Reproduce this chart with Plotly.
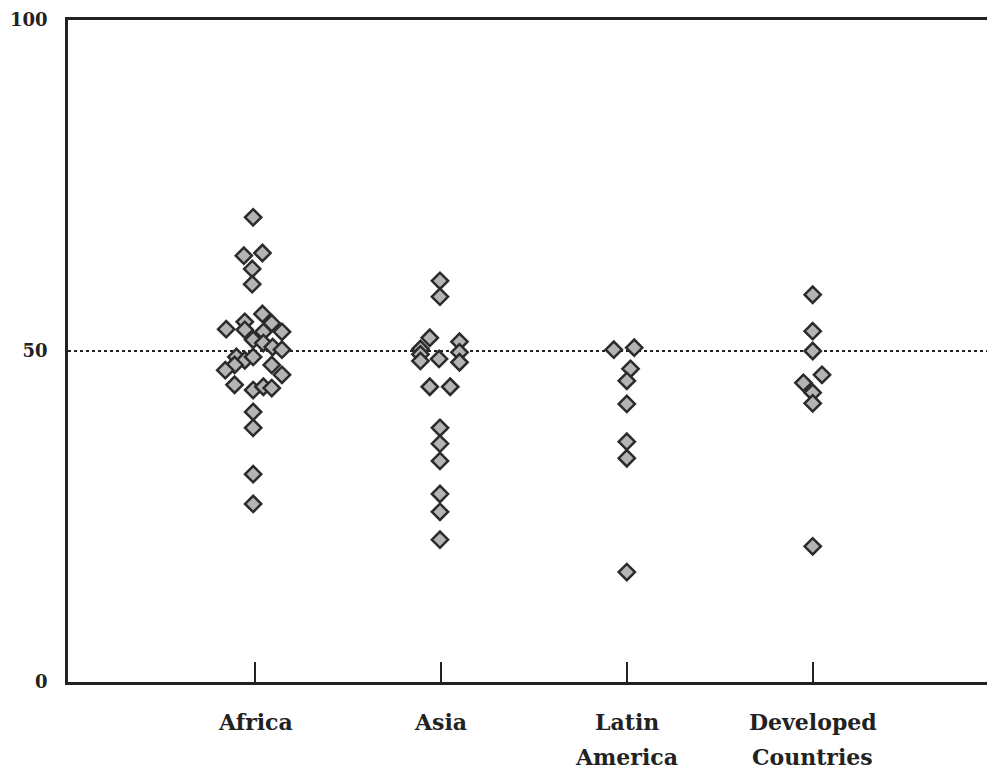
import plotly.graph_objects as go

# ---- data ----
categories = ["Africa", "Asia", "Latin America", "Developed Countries"]
label_line1 = ["Africa", "Asia", "Latin", "Developed"]
label_line2 = ["", "", "America", "Countries"]

africa_values = [70.2, 64.4, 64.8, 62.4, 60.1, 55.6, 53.3, 54.4, 53.2, 54.2, 52.9, 52.9,
                 51.7, 51.2, 50.6, 50.2, 49.1, 48.6, 49.1, 47.9, 47.1, 47.9, 46.4, 44.9,
                 44.1, 44.6, 44.4, 40.8, 38.4, 31.4, 26.9]
africa_offsets = [-0.01, -0.06, 0.04, -0.015, -0.015, 0.04, -0.155, -0.055, -0.055, 0.09, 0.145, 0.045,
                  -0.01, 0.045, 0.095, 0.145, -0.10, -0.055, -0.01, -0.11, -0.16, 0.09, 0.145, -0.11,
                  -0.01, 0.045, 0.09, -0.01, -0.01, -0.01, -0.01]

asia_values = [60.6, 58.2, 52.0, 51.4, 50.3, 49.8, 49.5, 48.8, 48.5, 48.3, 44.6, 44.6,
               38.4, 36.0, 33.4, 28.4, 25.7, 21.5]
asia_offsets = [-0.005, -0.005, -0.06, 0.10, -0.11, 0.10, -0.11, -0.01, -0.11, 0.10, -0.06, 0.05,
                -0.005, -0.005, -0.005, -0.005, -0.005, -0.005]

latin_values = [50.2, 50.5, 47.3, 45.5, 42.0, 36.3, 33.8, 16.6]
latin_offsets = [-0.07, 0.04, 0.02, 0.0, 0.0, 0.0, 0.0, 0.0]

developed_values = [58.5, 53.0, 50.0, 46.4, 45.2, 43.7, 42.1, 20.5]
developed_offsets = [0.0, 0.0, 0.0, 0.05, -0.05, 0.0, 0.0, 0.0]

reference_level = 50
y_ticks = [0, 50, 100]

groups = [
    (africa_values, africa_offsets),
    (asia_values, asia_offsets),
    (latin_values, latin_offsets),
    (developed_values, developed_offsets),
]

FONT = "DejaVu Serif"
INK = "#222222"

fig = go.Figure()
for i, (vals, offs) in enumerate(groups):
    pos = i + 1
    fig.add_trace(go.Scatter(
        x=[pos + o for o in offs],
        y=vals,
        mode="markers",
        name=categories[i],
        marker=dict(symbol="diamond", size=12.5, color="#b4b4b4",
                    line=dict(color="#2b2b2b", width=2.5)),
        showlegend=False,
        cliponaxis=False,
    ))

fig.add_shape(type="line", xref="paper", yref="y", x0=0, x1=1,
              y0=reference_level, y1=reference_level,
              line=dict(color=INK, width=2, dash="dot"), layer="below")

for i in range(len(categories)):
    fig.add_annotation(x=i + 1, y=-0.0604, xref="x", yref="paper", text="<b>%s</b>" % label_line1[i],
                       showarrow=False, yanchor="middle",
                       font=dict(family=FONT, size=22, color=INK))
    if label_line2[i]:
        fig.add_annotation(x=i + 1, y=-0.1133, xref="x", yref="paper", text="<b>%s</b>" % label_line2[i],
                           showarrow=False, yanchor="middle",
                           font=dict(family=FONT, size=22, color=INK))

fig.update_layout(
    width=987, height=770,
    margin=dict(l=68, r=0, t=20, b=88),
    paper_bgcolor="white", plot_bgcolor="white",
    xaxis=dict(range=[-0.006, 4.9376], tickvals=[1, 2, 3, 4], ticktext=["", "", "", ""],
               ticks="inside", ticklen=20, tickwidth=2, tickcolor=INK,
               showline=True, linecolor=INK, linewidth=2.5, mirror=True,
               showgrid=False, zeroline=False),
    yaxis=dict(range=[0, 100], tickvals=y_ticks, ticktext=[str(v) for v in y_ticks],
               ticks="outside", ticklen=14, tickcolor="rgba(0,0,0,0)",
               tickfont=dict(family=FONT, size=18, color=INK, weight="bold"),
               showline=True, linecolor=INK, linewidth=2.5,
               showgrid=False, zeroline=False),
)

fig.write_html("out.html", config={"displayModeBar": False},
               post_script="document.body.style.margin='0';document.body.style.overflow='hidden';")
